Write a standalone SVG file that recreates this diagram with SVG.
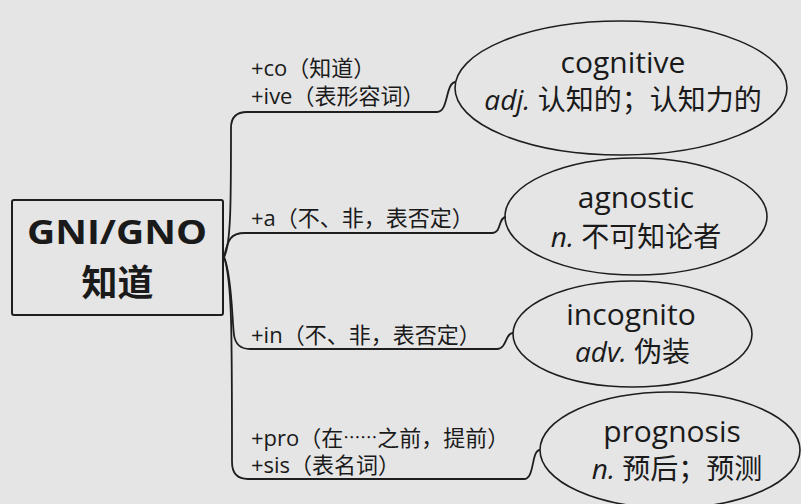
<svg xmlns="http://www.w3.org/2000/svg" width="801" height="504" viewBox="0 0 801 504">
<style>
.t{font-family:"Open Sans","Noto Sans CJK SC",sans-serif;fill:#1a1a1a}
.lbl{font-size:22px}
.w{font-size:28px;text-anchor:middle}
.wd{font-size:30px}
.it{font-style:italic}
.cjk{font-family:"Noto Sans CJK SC",sans-serif;font-size:17px}
.node{fill:none;stroke:#1e1e1e;stroke-width:1.6}
.link{fill:none;stroke:#1e1e1e;stroke-width:1.8}
</style>
<rect width="801" height="504" fill="#e5e5e5"/>
<g id="connectors">
<path class="link" d="M224,257 C231,245 231,200 231,128 Q231,112 247,112 L437,112 C449,112 445,82 456,82"/>
<path class="link" d="M224,257 C228,240 230,233 245,233 L492,233 C502,233 498,217 506,217"/>
<path class="link" d="M224,257 C232,275 232,320 234,335 Q236,349 250,349 L497,349 C507,349 505,333 513,333"/>
<path class="link" d="M224,257 C232,280 232,330 232,462 Q232,479 248,479 L524,479 C535,479 531,450 540,450"/>
</g>
<g id="labels">
<text class="t lbl" x="251" y="76">+co（知道）</text>
<text class="t lbl" x="251" y="104">+ive（表形容词）</text>
<text class="t lbl" x="251" y="226">+a（不、非，表否定）</text>
<text class="t lbl" x="251" y="343">+in（不、非，表否定）</text>
<text class="t lbl" x="251" y="446">+pro（在<tspan class="cjk" dy="-2">……</tspan><tspan dy="2">之前，提前）</tspan></text>
<text class="t lbl" x="251" y="473">+sis（表名词）</text>
</g>
<g id="root">
<rect x="12" y="200" width="211" height="115" rx="2" fill="none" stroke="#1e1e1e" stroke-width="2"/>
<text class="t" x="27" y="244" font-size="34" font-weight="bold" textLength="180" lengthAdjust="spacingAndGlyphs">GNI/GNO</text>
<text class="t" x="117.5" y="296" font-size="36" font-weight="bold" text-anchor="middle">知道</text>
</g>
<g id="cognitive">
<ellipse class="node" cx="621" cy="88" rx="166" ry="67"/>
<text class="t w wd" x="623" y="73">cognitive</text>
<text class="t w" x="623" y="110"><tspan class="it">adj.</tspan> 认知的；认知力的</text>
</g>
<g id="agnostic">
<ellipse class="node" cx="636" cy="216.5" rx="131" ry="58.5"/>
<text class="t w wd" x="636" y="208">agnostic</text>
<text class="t w" x="636" y="247"><tspan class="it">n.</tspan> 不可知论者</text>
</g>
<g id="incognito">
<ellipse class="node" cx="632.5" cy="334" rx="119.5" ry="53"/>
<text class="t w wd" x="631" y="325">incognito</text>
<text class="t w" x="632.5" y="362"><tspan class="it">adv.</tspan> 伪装</text>
</g>
<g id="prognosis">
<ellipse class="node" cx="670" cy="450" rx="130" ry="58"/>
<text class="t w wd" x="672" y="442">prognosis</text>
<text class="t w" x="677" y="479"><tspan class="it">n.</tspan> 预后；预测</text>
</g>
</svg>
